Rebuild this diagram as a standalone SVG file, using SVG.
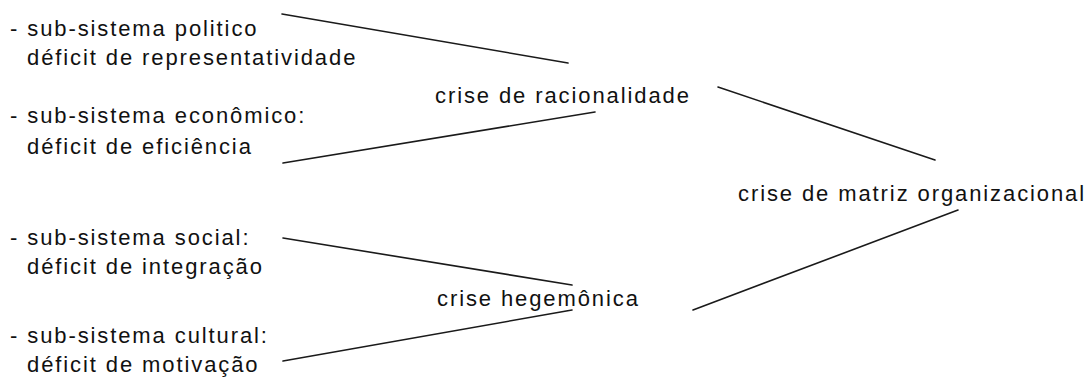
<svg xmlns="http://www.w3.org/2000/svg" width="1089" height="379" viewBox="0 0 1089 379">
<style>
text{font-family:"Liberation Sans",Arial,sans-serif;font-size:22px;fill:#111;letter-spacing:1.9px}
.c{stroke:#1a1a1a;stroke-width:1.6;fill:none;stroke-linecap:round}
</style>
<rect width="1089" height="379" fill="#fff"/>
<g id="connectors">
<line class="c" x1="282" y1="14" x2="568" y2="63"/>
<line class="c" x1="283" y1="163" x2="595" y2="112"/>
<line class="c" x1="718" y1="87" x2="935" y2="160"/>
<line class="c" x1="283" y1="238" x2="572" y2="285"/>
<line class="c" x1="283" y1="361" x2="572" y2="310"/>
<line class="c" x1="693" y1="310" x2="958" y2="210"/>
</g>
<g id="n-politico">
<text x="10" y="36">- sub-sistema politico</text>
<text x="27" y="65">déficit de representatividade</text>
</g>
<g id="n-economico">
<text x="10" y="123">- sub-sistema econômico:</text>
<text x="27" y="154">déficit de eficiência</text>
</g>
<g id="n-social">
<text x="10" y="245">- sub-sistema social:</text>
<text x="27" y="274">déficit de integração</text>
</g>
<g id="n-cultural">
<text x="10" y="343">- sub-sistema cultural:</text>
<text x="27" y="372">déficit de motivação</text>
</g>
<g id="n-racionalidade">
<text x="435" y="103">crise de racionalidade</text>
</g>
<g id="n-hegemonica">
<text x="437" y="306">crise hegemônica</text>
</g>
<g id="n-matriz">
<text x="738" y="201">crise de matriz organizacional</text>
</g>
</svg>
